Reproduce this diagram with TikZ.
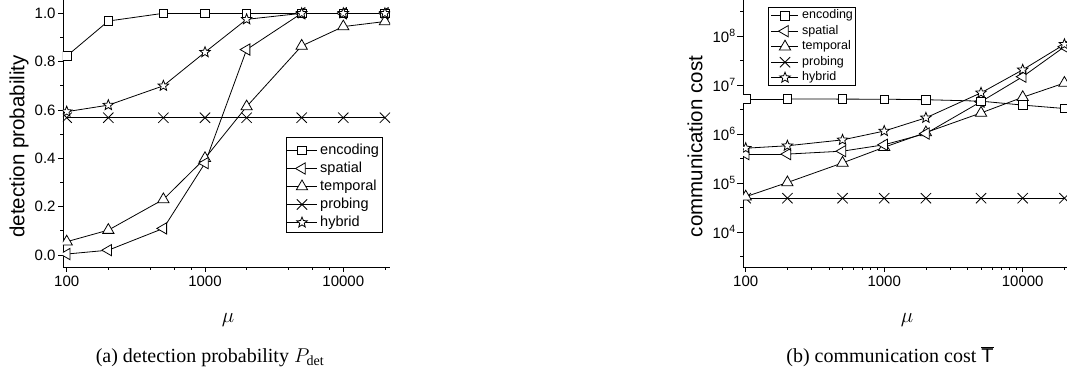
\documentclass[tikz,border=0pt]{standalone}
\usepackage{fix-cm}
\usepackage{fontspec}
\setmainfont{Liberation Serif}
\setsansfont{Liberation Sans}
\usetikzlibrary{shapes.geometric,shapes.misc}

\tikzset{
  curve/.style={line width=0.8pt},
  axisline/.style={line width=0.8pt},
  marker/.style={draw, fill=white, inner sep=0pt, line width=0.8pt},
  sqmark/.style={marker, rectangle, minimum size=8.5pt},
  ltrimark/.style={marker, regular polygon, regular polygon sides=3, shape border rotate=90, minimum size=13pt},
  utrimark/.style={marker, regular polygon, regular polygon sides=3, minimum size=13pt},
  crossmark/.style={draw, cross out, inner sep=0pt, minimum size=9.5pt, line width=0.8pt},
  starmark/.style={marker, star, star points=5, star point ratio=2.3, minimum size=11pt},
  ticklab/.style={font=\sffamily\fontsize{15}{18}\selectfont},
  axlab/.style={font=\sffamily\fontsize{20.5}{24}\selectfont},
  leglaba/.style={font=\sffamily\fontsize{14.5}{17}\selectfont, anchor=west, inner sep=0pt},
  leglabb/.style={font=\sffamily\fontsize{12.5}{15}\selectfont, anchor=west, inner sep=0pt},
  mulab/.style={font=\fontsize{21}{24}\selectfont},
  caplab/.style={font=\fontsize{20}{24}\selectfont, anchor=base}
}

\begin{document}
\begin{tikzpicture}[x=1pt,y=1pt]
\useasboundingbox (0,0) rectangle (1067,370);

% (a) detection probability
\begin{scope}[shift={(66.7pt,115pt)}, x=138.3pt, y=241.7pt]
  \draw[axisline] (-0.027,1.06) -- (-0.027,-0.05) -- (2.338,-0.05);
  \foreach \y/\lab [count=\k] in {0/0.0, 0.2/0.2, 0.4/0.4, 0.6/0.6, 0.8/0.8, 1/1.0}
    \draw[axisline, shift={(-0.027,\y)}] (0pt,0pt) -- (-5pt,0pt) node[ticklab, left, inner sep=2pt] (pya\k) {\lab};
  \foreach \y in {0.1,0.3,0.5,0.7,0.9}
    \draw[axisline, shift={(-0.027,\y)}] (0pt,0pt) -- (-3pt,0pt);
  \foreach \x/\lab [count=\k] in {0/100, 1/1000, 2/10000}
    \draw[axisline, shift={(\x,-0.05)}] (0pt,0pt) -- (0pt,-5pt) node[ticklab, below, inner sep=3.5pt] (pxa\k) {\lab};
  \foreach \x in {0.301,0.602,0.778,0.903,1.301,1.602,1.778,1.903,2.301}
    \draw[axisline, shift={(\x,-0.05)}] (0pt,0pt) -- (0pt,-3pt);

  \begin{scope}
    \clip (-0.027,-0.05) rectangle (2.338,1.06);
    \foreach \p [count=\i] in {(0,.823),(.301,.968),(.699,1),(1,1),(1.301,1),(1.699,1),(2,1),(2.301,1)}
      \node[coordinate] (enca\i) at \p {};
    \foreach \p [count=\i] in {(0,.004),(.301,.02),(.699,.11),(1,.38),(1.301,.85),(1.699,1),(2,1),(2.301,1)}
      \node[coordinate] (spta\i) at \p {};
    \foreach \p [count=\i] in {(0,.055),(.301,.103),(.699,.23),(1,.40),(1.301,.614),(1.699,.865),(2,.945),(2.301,.966)}
      \node[coordinate] (tmpa\i) at \p {};
    \foreach \p [count=\i] in {(0,.568),(.301,.568),(.699,.568),(1,.568),(1.301,.568),(1.699,.568),(2,.568),(2.301,.568)}
      \node[coordinate] (prba\i) at \p {};
    \foreach \p [count=\i] in {(0,.593),(.301,.62),(.699,.70),(1,.839),(1.301,.975),(1.699,1),(2,1),(2.301,1)}
      \node[coordinate] (hyba\i) at \p {};
    \foreach \s in {enca,spta,tmpa,prba,hyba}
      \foreach \i [count=\j from 2] in {1,...,7}
        \draw[curve] (\s\i) -- (\s\j);
    \foreach \i in {1,...,8} {
      \node[crossmark] (prbam\i) at (prba\i) {};
      \node[utrimark] (tmpam\i) at (tmpa\i) {};
      \node[ltrimark] (sptam\i) at (spta\i) {};
      \node[sqmark] (encam\i) at (enca\i) {};
      \node[starmark] (hybam\i) at (hyba\i) {};
    }
  \end{scope}
\end{scope}

\draw[axisline] (286,138) rectangle (382,233);
\foreach \lab/\mk [count=\k] in {encoding/sqmark, spatial/ltrimark, temporal/utrimark, probing/crossmark, hybrid/starmark} {
  \coordinate (lgaw\k) at (287,237.5-18*\k);
  \coordinate (lgae\k) at (317,237.5-18*\k);
  \draw[curve] (lgaw\k) -- (lgae\k);
  \node[\mk] (lgam\k) at (302,237.5-18*\k) {};
  \node[leglaba] (lgat\k) at (320,237.5-18*\k) {\lab};
}

\node[axlab, rotate=90] (ylabela) at (19,223.5) {detection probability};
\node[mulab] (mua) at (228,50) {$\mu$};
\node[caplab] (capa) at (210,8) {(a) detection probability $P_{\mathrm{det}}$};

% (b) communication cost
\begin{scope}[shift={(745.7pt,-58pt)}, x=138.5pt, y=49pt]
  \draw[axisline] (-0.0195,8.76) -- (-0.0195,3.286) -- (2.32,3.286);
  \foreach \L [count=\k] in {4,...,8}
    \draw[axisline, shift={(-0.0195,\L)}] (0pt,0pt) -- (-6pt,0pt) node[ticklab, left, inner sep=1pt] (pyb\k) {10\textsuperscript{\L}};
  \foreach \L in {3.5,4.5,5.5,6.5,7.5,8.5}
    \draw[axisline, shift={(-0.0195,\L)}] (0pt,0pt) -- (-3pt,0pt);
  \foreach \x/\lab [count=\k] in {0/100, 1/1000, 2/10000}
    \draw[axisline, shift={(\x,3.286)}] (0pt,0pt) -- (0pt,-5pt) node[ticklab, below, inner sep=3.5pt] (pxb\k) {\lab};
  \foreach \x in {0.301,0.477,0.602,0.699,0.778,0.845,0.903,0.954,1.301,1.477,1.602,1.699,1.778,1.845,1.903,1.954,2.301}
    \draw[axisline, shift={(\x,3.286)}] (0pt,0pt) -- (0pt,-3pt);

  \begin{scope}
    \clip (-0.0195,3.286) rectangle (2.32,8.76);
    \foreach \p [count=\i] in {(0,6.714),(.301,6.714),(.699,6.712),(1,6.71),(1.301,6.70),(1.699,6.67),(2,6.59),(2.301,6.52)}
      \node[coordinate] (encb\i) at \p {};
    \foreach \p [count=\i] in {(0,5.59),(.301,5.59),(.699,5.65),(1,5.78),(1.301,6.01),(1.699,6.66),(2,7.17),(2.301,7.78)}
      \node[coordinate] (sptb\i) at \p {};
    \foreach \p [count=\i] in {(0,4.72),(.301,5.01),(.699,5.41),(1,5.73),(1.301,6.03),(1.699,6.43),(2,6.75),(2.301,7.04)}
      \node[coordinate] (tmpb\i) at \p {};
    \foreach \p [count=\i] in {(0,4.69),(.301,4.69),(.699,4.69),(1,4.69),(1.301,4.69),(1.699,4.69),(2,4.69),(2.301,4.69)}
      \node[coordinate] (prbb\i) at \p {};
    \foreach \p [count=\i] in {(0,5.71),(.301,5.76),(.699,5.88),(1,6.06),(1.301,6.33),(1.699,6.84),(2,7.31),(2.301,7.83)}
      \node[coordinate] (hybb\i) at \p {};
    \foreach \s in {encb,sptb,tmpb,prbb,hybb}
      \foreach \i [count=\j from 2] in {1,...,7}
        \draw[curve] (\s\i) -- (\s\j);
    \foreach \i in {1,...,8} {
      \node[crossmark] (prbbm\i) at (prbb\i) {};
      \node[utrimark] (tmpbm\i) at (tmpb\i) {};
      \node[ltrimark] (sptbm\i) at (sptb\i) {};
      \node[sqmark] (encbm\i) at (encb\i) {};
      \node[starmark] (hybbm\i) at (hybb\i) {};
    }
  \end{scope}
\end{scope}

\draw[axisline] (768,285) rectangle (855,363);
\foreach \lab/\mk [count=\k] in {encoding/sqmark, spatial/ltrimark, temporal/utrimark, probing/crossmark, hybrid/starmark} {
  \coordinate (lgbw\k) at (771,369.8-15.5*\k);
  \coordinate (lgbe\k) at (798,369.8-15.5*\k);
  \draw[curve] (lgbw\k) -- (lgbe\k);
  \node[\mk] (lgbm\k) at (785,369.8-15.5*\k) {};
  \node[leglabb] (lgbt\k) at (802,369.8-15.5*\k) {\lab};
}

\node[axlab, rotate=90] (ylabelb) at (695,223.5) {communication cost};
\node[mulab] (mub) at (907,50) {$\mu$};
\node[caplab] (capb) at (890,8) {(b) communication cost $\overline{\textsf{T}}$};
\end{tikzpicture}
\end{document}
